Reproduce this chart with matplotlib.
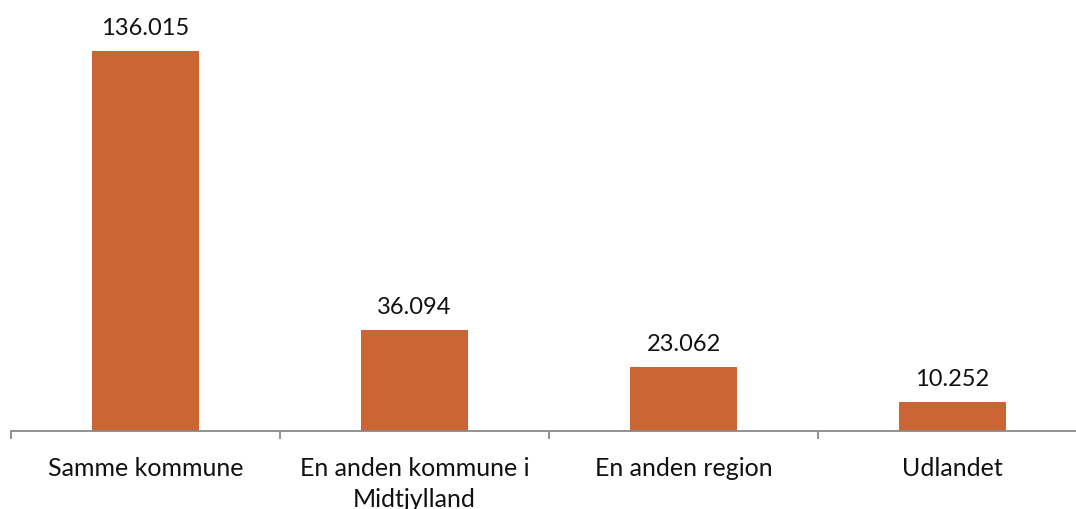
import matplotlib
matplotlib.use("Agg")
import matplotlib.pyplot as plt
import numpy as np

categories = ["Samme kommune", "En anden kommune i\nMidtjylland", "En anden region", "Udlandet"]
values = [136015, 36094, 23062, 10252]
value_labels = ["136.015", "36.094", "23.062", "10.252"]

plt.rcParams['font.family'] = ['Lato', 'DejaVu Sans']

W, H = 1076, 510
fig = plt.figure(figsize=(W/100, H/100), dpi=100)
left = 11 / W
cat_w = 269 / W
bottom = (H - 432) / H
ymax = 150000
height_px = ymax * 380 / 136015
ax = fig.add_axes([left, bottom, cat_w * 4, height_px / H])

x = np.arange(len(categories))
ax.bar(x, values, width=0.4, color="#CB6634", zorder=2)
ax.set_xlim(-0.5, 3.5)
ax.set_ylim(0, ymax)

for xi, v, lab in zip(x, values, value_labels):
    ax.annotate(lab, (xi, v), xytext=(0, 13), textcoords="offset pixels",
                ha="center", va="bottom", fontsize=17, color="#111111")

for s in ["top", "right", "left"]:
    ax.spines[s].set_visible(False)
ax.spines["bottom"].set_color("#898989")
ax.spines["bottom"].set_linewidth(1.3)
ax.set_yticks([])
ax.set_xticks([-0.5, 0.5, 1.5, 2.5, 3.5])
ax.set_xticklabels([])
ax.tick_params(axis="x", length=6, width=1.3, color="#898989", direction="out")
ax.set_xticks(x, minor=True)
ax.set_xticklabels(categories, minor=True, fontsize=18, color="#111111", linespacing=1.4)
ax.tick_params(axis="x", which="minor", length=0, pad=18)

fig.savefig("out.png", dpi=100)
